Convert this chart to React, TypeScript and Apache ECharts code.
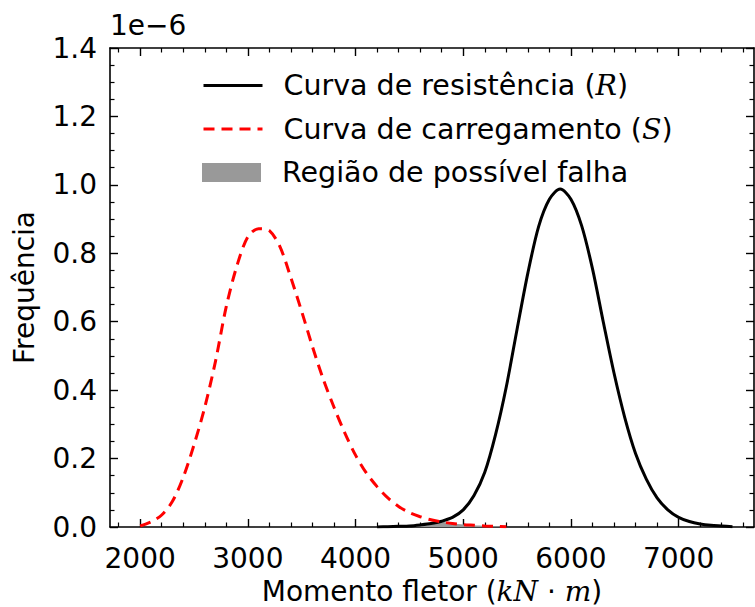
import React, { useEffect, useRef } from 'react';
import * as echarts from 'echarts';

// Curva de carregamento (S) — frequency values in units of 1e-6
const loadX = [2000, 2100, 2200, 2300, 2400, 2500, 2600, 2700, 2800, 2900, 3000, 3100, 3200, 3300, 3400, 3500, 3600, 3700, 3800, 3900, 4000, 4100, 4200, 4300, 4400, 4500, 4600, 4700, 4800, 4900, 5000, 5100, 5200, 5300, 5400];
const loadY = [0.003, 0.015, 0.035, 0.075, 0.145, 0.24, 0.35, 0.485, 0.645, 0.765, 0.848, 0.872, 0.866, 0.818, 0.728, 0.63, 0.527, 0.432, 0.35, 0.275, 0.21, 0.158, 0.118, 0.085, 0.06, 0.042, 0.03, 0.021, 0.015, 0.01, 0.007, 0.005, 0.003, 0.002, 0.001];

// Curva de resistência (R)
const resX = [4200, 4300, 4400, 4500, 4600, 4700, 4800, 4900, 5000, 5100, 5200, 5300, 5400, 5500, 5600, 5700, 5800, 5900, 6000, 6100, 6200, 6300, 6400, 6500, 6600, 6700, 6800, 6900, 7000, 7100, 7200, 7300, 7400, 7500];
const resY = [0, 0.001, 0.002, 0.003, 0.006, 0.01, 0.017, 0.028, 0.05, 0.092, 0.16, 0.27, 0.41, 0.578, 0.742, 0.878, 0.958, 0.988, 0.958, 0.88, 0.755, 0.6, 0.45, 0.32, 0.215, 0.14, 0.085, 0.05, 0.028, 0.016, 0.009, 0.005, 0.003, 0.001];

const xMajorTicks = [2000, 3000, 4000, 5000, 6000, 7000];
const xMinorTicks = [1800, 2200, 2400, 2600, 2800, 3200, 3400, 3600, 3800, 4200, 4400, 4600, 4800, 5200, 5400, 5600, 5800, 6200, 6400, 6600, 6800, 7200, 7400, 7600];

const seriesNames = ['Curva de resistência (R)', 'Curva de carregamento (S)', 'Região de possível falha'];

const FONT = "'DejaVu Sans', sans-serif";
const SERIF = "'DejaVu Serif', serif";
const FS = 28;
const LFS = 28.5;

export default function App() {
  const ref = useRef<HTMLDivElement>(null);
  useEffect(() => {
    const chart = echarts.init(ref.current!, null, { renderer: 'svg' });
    const loadPts = loadX.map((x, i) => [x, loadY[i]]);
    const resPts = resX.map((x, i) => [x, resY[i]]);
    const failPts = loadX
      .filter((x) => resX.includes(x))
      .map((x) => [x, Math.min(loadY[loadX.indexOf(x)], resY[resX.indexOf(x)])]);

    const line = { show: true, onZero: false, lineStyle: { color: '#000', width: 1.6 } };
    const majTick = (vals?: number[]) => ({
      show: true, inside: true, length: 8,
      lineStyle: { color: '#000', width: 1.4 },
      ...(vals ? { customValues: vals } : {}),
    });
    const minTick = (vals: number[]) => ({
      show: true, inside: true, length: 4.5,
      lineStyle: { color: '#000', width: 1.2 },
      customValues: vals,
    });
    const xBase = { type: 'value', min: 1720, max: 7700, splitLine: { show: false } };
    const yBase = {
      type: 'value', min: 0, max: 1.4, interval: 0.2,
      splitLine: { show: false },
      minorTick: { show: true, splitNumber: 4, length: 4.5, lineStyle: { color: '#000', width: 1.2 } },
      minorSplitLine: { show: false },
    };
    const mkRich = (fs: number) => ({
      sp: { width: 16, lineHeight: 30, fontSize: fs },
      t: { fontFamily: FONT, fontSize: fs, color: '#000', lineHeight: 30 },
      i: { fontFamily: SERIF, fontStyle: 'italic', fontSize: fs, color: '#000', lineHeight: 30 },
    });
    const hiddenSymbol = { color: 'rgba(0,0,0,0)', borderWidth: 0, opacity: 0 };
    const legendBase = {
      show: true, orient: 'vertical', left: 202, padding: 0,
      itemWidth: 59, itemHeight: 19,
      formatter: (name: string) => {
        if (name === seriesNames[0]) return '{sp| }{t|Curva de resistência (}{i|R}{t|)}';
        if (name === seriesNames[1]) return '{sp| }{t|Curva de carregamento (}{i|S}{t|)}';
        return '{sp| }{t|Região de possível falha}';
      },
      textStyle: { rich: mkRich(LFS) },
      selectedMode: false,
    };

    chart.setOption({
      animation: false,
      backgroundColor: '#fff',
      grid: { left: 110, right: 1, top: 48, bottom: 80, containLabel: false, outerBoundsMode: 'none' },
      xAxis: [
        {
          ...xBase, position: 'bottom', axisLine: line, axisTick: majTick(xMajorTicks),
          axisLabel: { show: true, customValues: xMajorTicks, margin: 17, color: '#000', fontSize: FS, fontFamily: FONT, formatter: (v: number) => String(Math.round(v)) },
          name: '{t|Momento fletor (}{i|kN}{t| · }{i|m}{t|)}',
          nameLocation: 'middle', nameGap: 49, nameMoveOverlap: false,
          nameTextStyle: { rich: mkRich(FS) },
        },
        { ...xBase, position: 'bottom', axisLine: { show: false, onZero: false }, axisTick: minTick(xMinorTicks), axisLabel: { show: false } },
        { ...xBase, position: 'top', axisLine: line, axisTick: majTick(xMajorTicks), axisLabel: { show: false } },
        { ...xBase, position: 'top', axisLine: { show: false, onZero: false }, axisTick: minTick(xMinorTicks), axisLabel: { show: false } },
      ],
      yAxis: [
        {
          ...yBase, position: 'left', axisLine: line, axisTick: majTick(),
          axisLabel: { show: true, margin: 13, color: '#000', fontSize: FS, fontFamily: FONT, formatter: (v: number) => v.toFixed(1) },
          name: 'Frequência', nameLocation: 'middle', nameGap: 72, nameMoveOverlap: false,
          nameTextStyle: { fontFamily: FONT, fontSize: FS, color: '#000' },
        },
        { ...yBase, position: 'right', axisLine: line, axisTick: majTick(), axisLabel: { show: false } },
      ],
      legend: [
        { ...legendBase, top: 71, lineStyle: { width: 3 }, data: [{ name: seriesNames[0], itemStyle: hiddenSymbol }] },
        { ...legendBase, top: 114.5, lineStyle: { width: 3 }, data: [{ name: seriesNames[1], itemStyle: hiddenSymbol }] },
        { ...legendBase, top: 158, data: [{ name: seriesNames[2], icon: 'rect' }] },
      ],
      graphic: [
        { type: 'text', left: 110, top: 11, style: { text: '1e\u22126', font: `${FS}px 'DejaVu Sans'`, fill: '#000' } },
      ],
      series: [
        {
          type: 'line', name: seriesNames[2], data: failPts, symbol: 'none', smooth: 0.3,
          lineStyle: { width: 0, color: '#999999' }, itemStyle: { color: '#999999' },
          areaStyle: { color: '#999999', opacity: 1 }, z: 1, silent: true,
        },
        {
          type: 'line', name: seriesNames[0], data: resPts, symbol: 'none', smooth: 0.3,
          lineStyle: { color: '#000', width: 3 }, itemStyle: { color: '#000' }, z: 3, silent: true,
        },
        {
          type: 'line', name: seriesNames[1], data: loadPts, symbol: 'none', smooth: 0.3,
          lineStyle: { color: '#ff0000', width: 3, type: [11, 7] }, itemStyle: { color: '#ff0000' }, z: 4, silent: true,
        },
      ],
    });
    return () => chart.dispose();
  }, []);
  return <div ref={ref} style={{ position: 'fixed', left: 0, top: 0, width: 755, height: 607, background: '#fff' }} />;
}
